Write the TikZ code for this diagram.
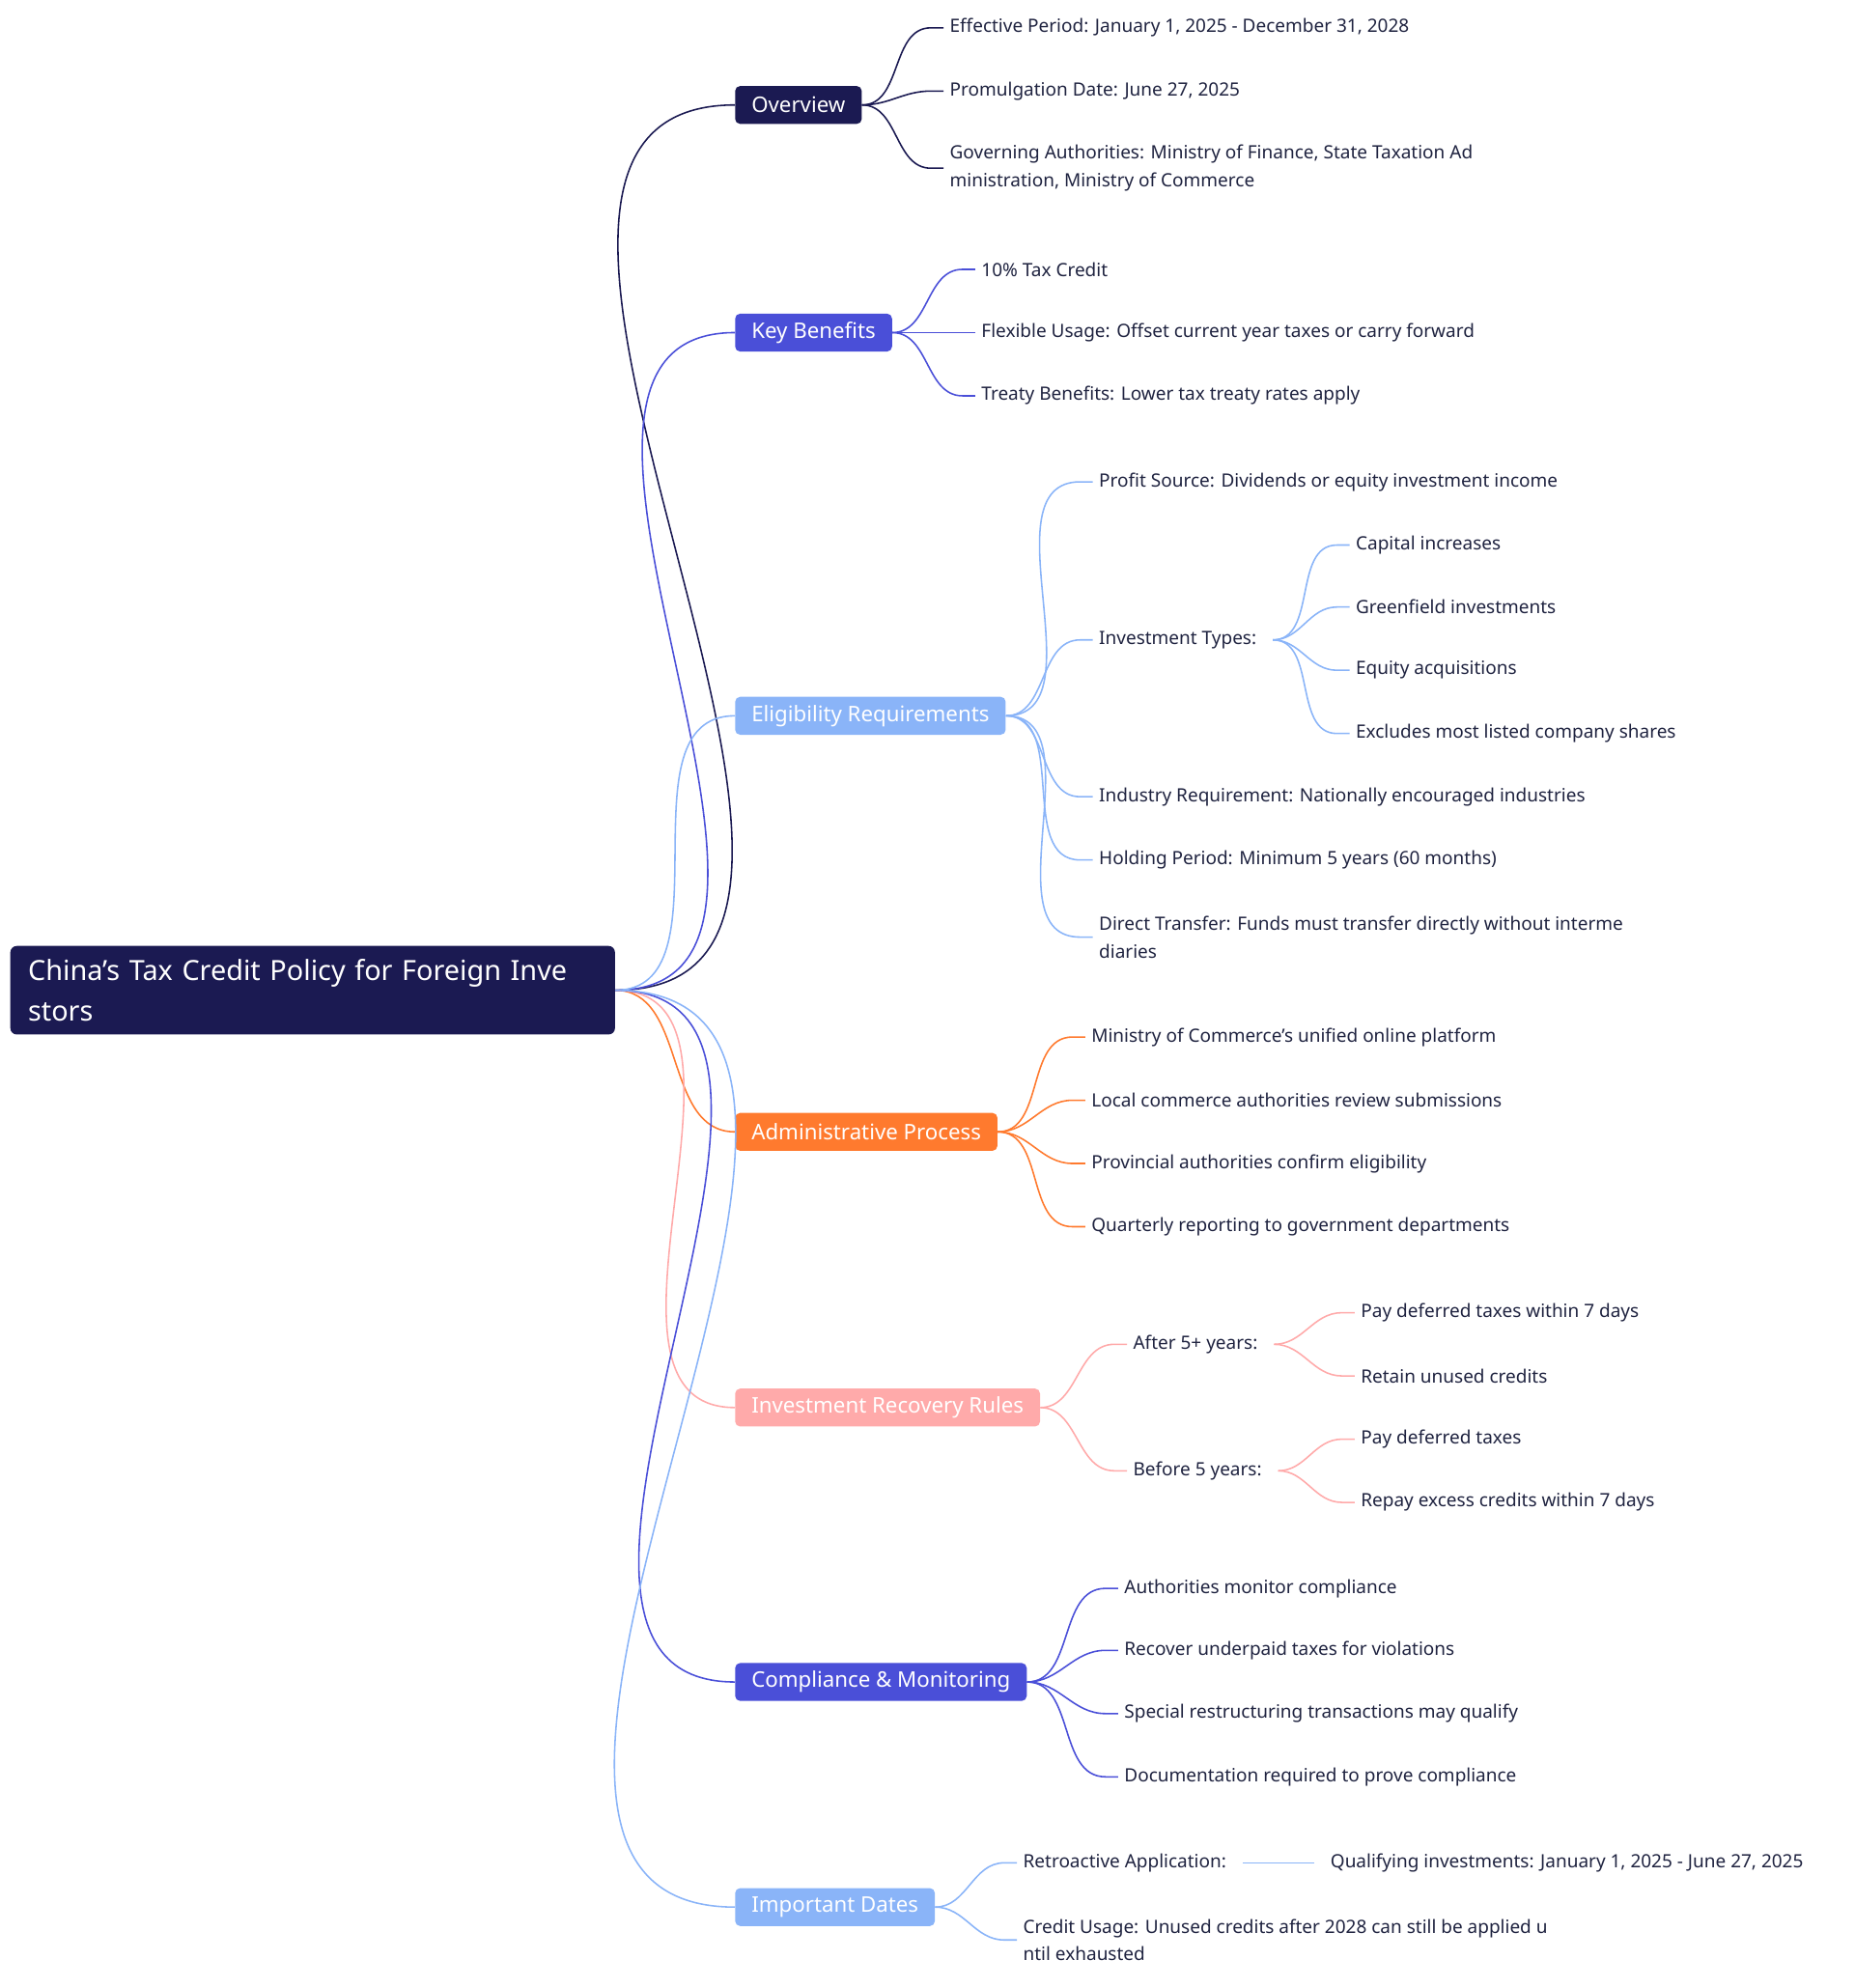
\documentclass[tikz,border=0pt]{standalone}
\usepackage{fontspec}
\setmainfont{Noto Sans}
\definecolor{navy}{HTML}{1B1A52}
\definecolor{violet}{HTML}{4A4FD8}
\definecolor{lblue}{HTML}{8AB4F8}
\definecolor{orng}{HTML}{FF7A2E}
\definecolor{pink}{HTML}{FFAAAA}
\definecolor{txt}{HTML}{1F2340}
\begin{document}
\begin{tikzpicture}[x=1pt,y=-1pt,
 root/.style={fill=navy,text=white,font=\fontsize{22}{32}\selectfont\bfseries,rounded corners=5pt,align=left,anchor=west,inner xsep=14pt,inner ysep=6pt,minimum height=70,text width=450},
 br/.style={fill=#1,text=white,font=\fontsize{17}{20}\selectfont\bfseries,rounded corners=4pt,anchor=west,inner xsep=13pt,minimum height=30},
 lf/.style={text=txt,font=\fontsize{14.5}{22}\selectfont,align=left,anchor=west,inner sep=1pt,outer sep=0pt},
 c/.style={draw=#1,line width=1.2pt},
 cv/.style={out=0,in=180}]
\useasboundingbox (0,0) rectangle (1466,1572);
\node[root] (r) at (8,783) {China's Tax Credit Policy for Foreign Inve\\stors};
\node[br=navy] (ov) at (581,83) {Overview};
\node[br=violet] (kb) at (581,263) {Key Benefits};
\node[br=lblue] (el) at (581,566) {Eligibility Requirements};
\node[br=orng] (ad) at (581,895) {Administrative Process};
\node[br=pink] (ir) at (581,1113) {Investment Recovery Rules};
\node[br=violet] (cm) at (581,1330) {Compliance \& Monitoring};
\node[br=lblue] (id) at (581,1508) {Important Dates};
\foreach \b/\col in {ov/navy,kb/violet,el/lblue,ad/orng,ir/pink,cm/violet,id/lblue}
  \draw[c=\col] (r.east) to[cv] (\b.west);
% leaves
\node[lf] (ov1) at (750,22) {Effective Period: January 1, 2025 - December 31, 2028};
\node[lf] (ov2) at (750,72) {Promulgation Date: June 27, 2025};
\node[lf] (ov3) at (750,133) {Governing Authorities: Ministry of Finance, State Taxation Ad\\ministration, Ministry of Commerce};
\node[lf] (kb1) at (775,213) {10\% Tax Credit};
\node[lf] (kb2) at (775,263) {Flexible Usage: Offset current year taxes or carry forward};
\node[lf] (kb3) at (775,313) {Treaty Benefits: Lower tax treaty rates apply};
\node[lf] (el1) at (868,381) {Profit Source: Dividends or equity investment income};
\node[lf] (el2) at (868,506) {Investment Types:};
\node[lf] (el3) at (868,630) {Industry Requirement: Nationally encouraged industries};
\node[lf] (el4) at (868,680) {Holding Period: Minimum 5 years (60 months)};
\node[lf] (el5) at (868,741) {Direct Transfer: Funds must transfer directly without interme\\diaries};
\node[lf] (it1) at (1071,431) {Capital increases};
\node[lf] (it2) at (1071,480) {Greenfield investments};
\node[lf] (it3) at (1071,530) {Equity acquisitions};
\node[lf] (it4) at (1071,580) {Excludes most listed company shares};
\node[lf] (ad1) at (862,820) {Ministry of Commerce's unified online platform};
\node[lf] (ad2) at (862,870) {Local commerce authorities review submissions};
\node[lf] (ad3) at (862,920) {Provincial authorities confirm eligibility};
\node[lf] (ad4) at (862,970) {Quarterly reporting to government departments};
\node[lf] (ir1) at (895,1063) {After 5+ years:};
\node[lf] (ir2) at (895,1163) {Before 5 years:};
\node[lf] (a1) at (1075,1038) {Pay deferred taxes within 7 days};
\node[lf] (a2) at (1075,1088) {Retain unused credits};
\node[lf] (b1) at (1075,1138) {Pay deferred taxes};
\node[lf] (b2) at (1075,1188) {Repay excess credits within 7 days};
\node[lf] (cm1) at (888,1256) {Authorities monitor compliance};
\node[lf] (cm2) at (888,1305) {Recover underpaid taxes for violations};
\node[lf] (cm3) at (888,1355) {Special restructuring transactions may qualify};
\node[lf] (cm4) at (888,1405) {Documentation required to prove compliance};
\node[lf] (id1) at (808,1473) {Retroactive Application:};
\node[lf] (id2) at (808,1534) {Credit Usage: Unused credits after 2028 can still be applied u\\ntil exhausted};
\node[lf] (q1) at (1051,1473) {Qualifying investments: January 1, 2025 - June 27, 2025};
\foreach \p/\l/\col in {ov/ov1/navy,ov/ov2/navy,ov/ov3/navy,kb/kb1/violet,kb/kb2/violet,kb/kb3/violet,
  el/el1/lblue,el/el2/lblue,el/el3/lblue,el/el4/lblue,el/el5/lblue,
  ad/ad1/orng,ad/ad2/orng,ad/ad3/orng,ad/ad4/orng,ir/ir1/pink,ir/ir2/pink,
  cm/cm1/violet,cm/cm2/violet,cm/cm3/violet,cm/cm4/violet,id/id1/lblue,id/id2/lblue}
  \draw[c=\col] (\p.east) to[cv] ([xshift=-14pt]\l.west) -- ([xshift=-4pt]\l.west);
\foreach \l in {it1,it2,it3,it4}
  \draw[c=lblue] ([xshift=12pt]el2.east) to[cv] ([xshift=-14pt]\l.west) -- ([xshift=-4pt]\l.west);
\foreach \p/\l in {ir1/a1,ir1/a2,ir2/b1,ir2/b2}
  \draw[c=pink] ([xshift=12pt]\p.east) to[cv] ([xshift=-14pt]\l.west) -- ([xshift=-4pt]\l.west);
\draw[c=lblue] ([xshift=12pt]id1.east) -- ([xshift=-12pt]q1.west);
\end{tikzpicture}
\end{document}
